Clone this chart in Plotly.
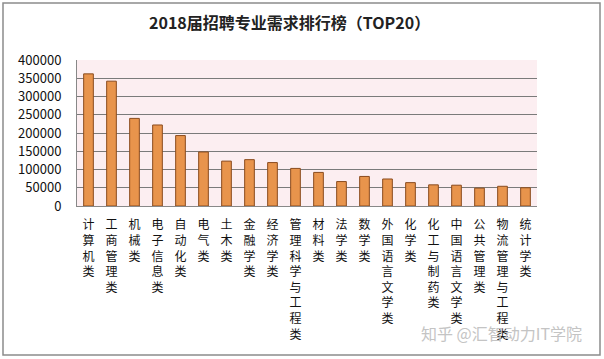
import plotly.graph_objects as go

categories = ["计算机类", "工商管理类", "机械类", "电子信息类", "自动化类", "电气类", "土木类",
              "金融学类", "经济学类", "管理科学与工程类", "材料类", "法学类", "数学类",
              "外国语言文学类", "化学类", "化工与制药类", "中国语言文学类", "公共管理类",
              "物流管理与工程类", "统计学类"]
values = [362000, 342000, 240000, 222000, 193000, 148000, 123000, 127000, 119000, 103000,
          92000, 67000, 81000, 74000, 64000, 58000, 57000, 49000, 54000, 50000]
y_ticks = [0, 50000, 100000, 150000, 200000, 250000, 300000, 350000, 400000]

W, H = 604, 359
L, R, T, B = 77, 67, 60, 153
pw, ph = W - L - R, H - T - B

def px(x):
    return (x - L) / pw

def py(y):
    return (H - B - y) / ph

labels = ["<br>".join(list(c)) for c in categories]
font = "Noto Sans CJK SC"

fig = go.Figure(go.Bar(
    x=labels, y=values, width=0.42,
    marker=dict(color="#E8944C", line=dict(color="#8A4B1E", width=1)),
))

fig.update_layout(
    width=W, height=H,
    margin=dict(l=L, r=R, t=T, b=B, pad=0),
    paper_bgcolor="white",
    plot_bgcolor="#FCEEF1",
    showlegend=False,
    font=dict(family=font, color="#111111"),
)
fig.update_xaxes(
    showgrid=False, showline=True, linecolor="#888888", linewidth=1,
    ticks="outside", ticklen=8, tickcolor="rgba(0,0,0,0)",
    tickfont=dict(size=12, family=font, color="#111111"),
    tickangle=0, fixedrange=True, automargin=False,
)
fig.update_yaxes(
    range=[0, 400000], tickvals=y_ticks, ticktext=[str(v) for v in y_ticks],
    showgrid=True, gridcolor="#7A7A7A", gridwidth=1,
    showline=True, linecolor="#888888", linewidth=1,
    tickfont=dict(size=13, family=font, color="#111111"),
    ticks="outside", ticklen=12, tickcolor="rgba(0,0,0,0)",
    zeroline=False, automargin=False, fixedrange=True,
)

fig.add_annotation(
    text="<b>2018届招聘专业需求排行榜（TOP20）</b>",
    xref="paper", yref="paper", x=px(289), y=py(22),
    showarrow=False, font=dict(size=16, family=font, color="#222222"),
    xanchor="center", yanchor="middle",
)
fig.add_annotation(
    text="知乎 @汇智动力IT学院",
    xref="paper", yref="paper", x=px(501), y=py(333),
    showarrow=False, font=dict(size=16, family=font, color="#C4C4C4"),
    xanchor="center", yanchor="middle",
)
fig.add_shape(
    type="rect", xref="paper", yref="paper",
    x0=px(3), x1=px(600), y0=py(355), y1=py(3),
    line=dict(color="#8C8C8C", width=1.5), fillcolor="rgba(0,0,0,0)", layer="below",
)

fig.write_html("out.html", config={"displayModeBar": False},
               post_script="document.body.style.margin='0';document.body.style.overflow='hidden';")
